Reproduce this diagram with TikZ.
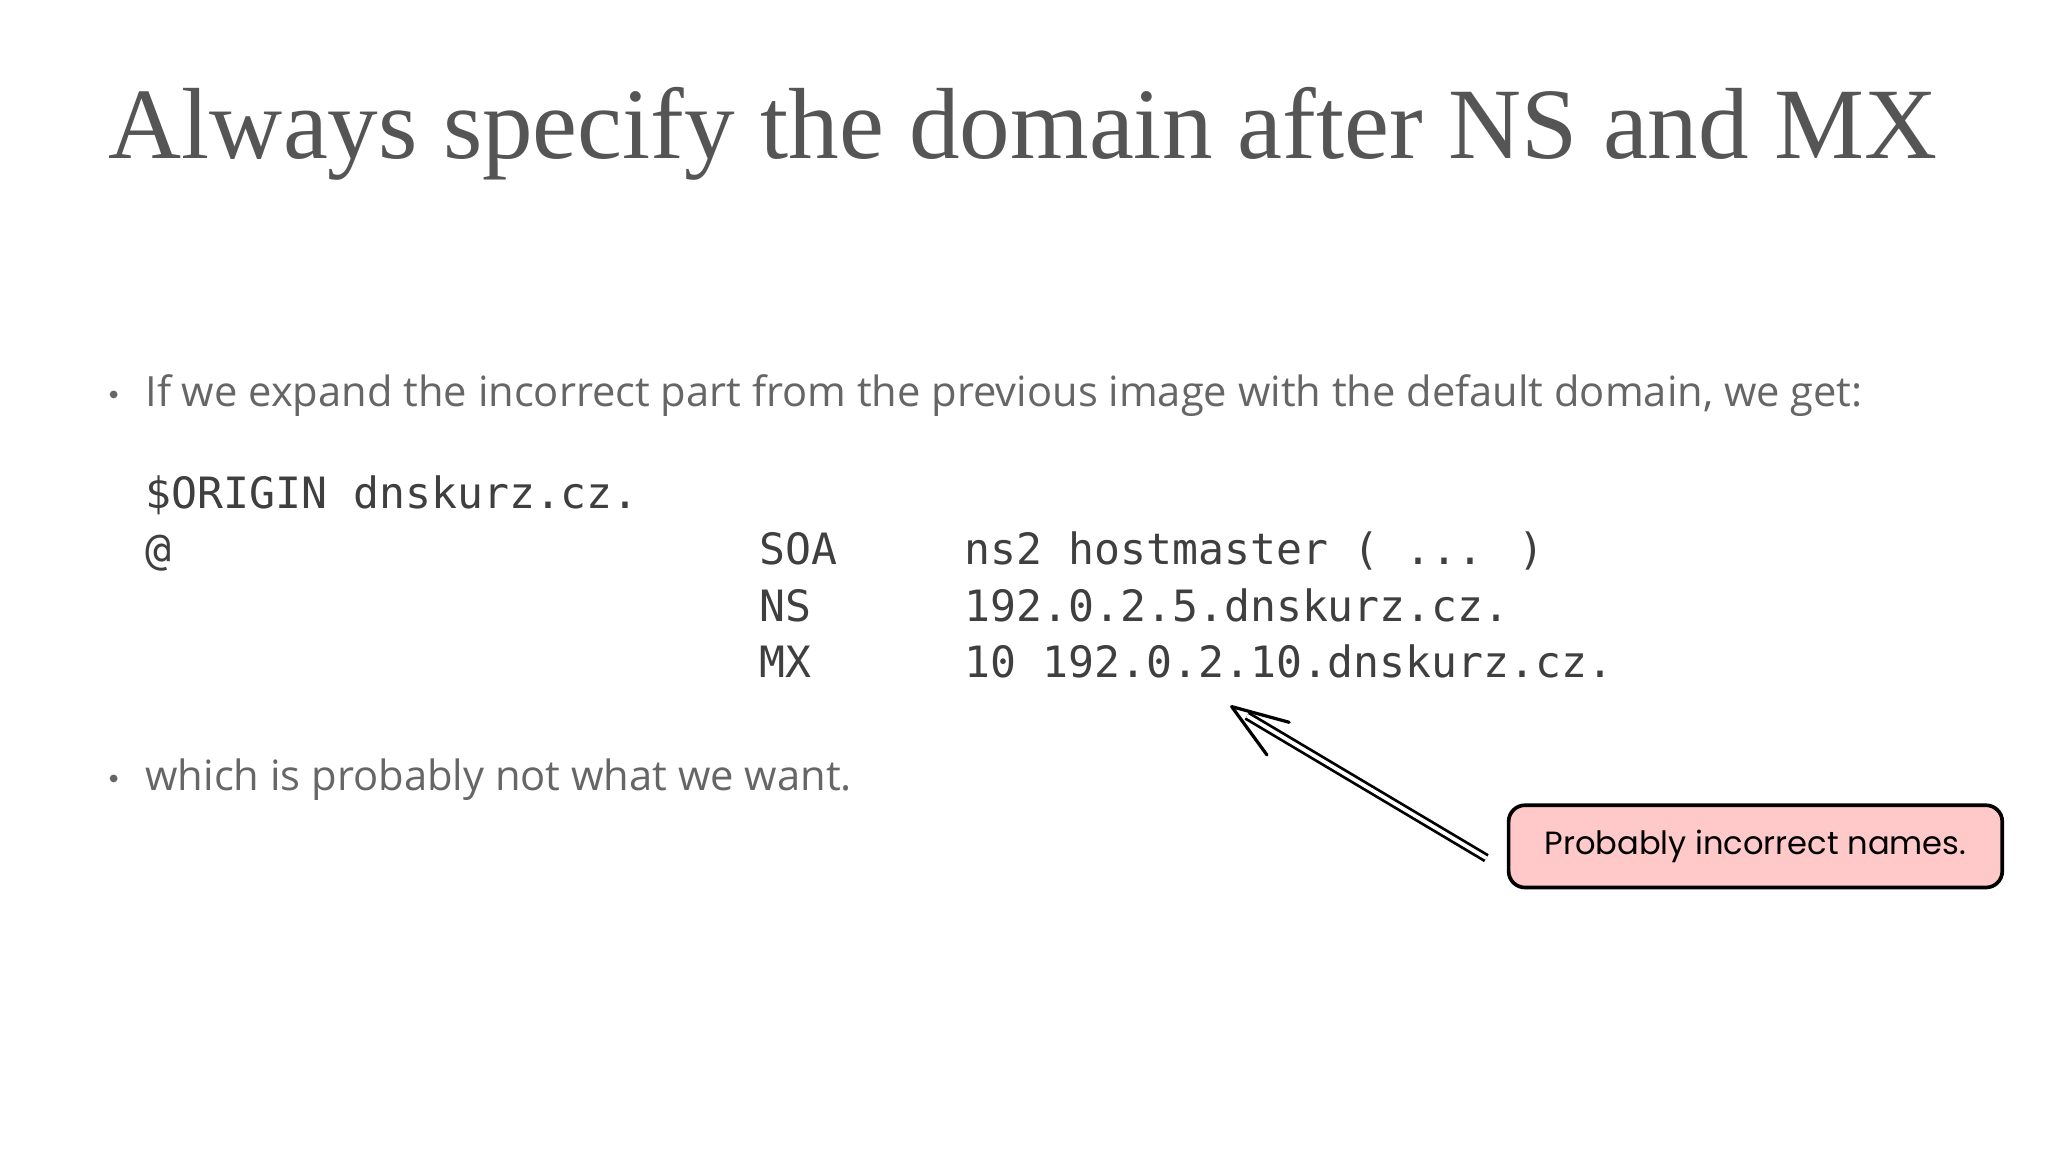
\documentclass[tikz,border=0pt]{standalone}
\usepackage{fontspec}
\setmainfont{Liberation Serif}
\newfontfamily\bodyf{Open Sans}
\newfontfamily\monof{DejaVu Sans Mono}
\newfontfamily\handf{Poppins}
\usetikzlibrary{arrows.meta,calc}
\definecolor{titlec}{HTML}{555555}
\definecolor{bodyc}{HTML}{666666}
\definecolor{monoc}{HTML}{3F3F3F}
\definecolor{pinkc}{HTML}{FFC9C9}
\begin{document}
\begin{tikzpicture}[x=0.02cm,y=-0.02cm,
  title/.style={anchor=base west,inner sep=0,text=titlec},
  body/.style={anchor=base west,inner sep=0,text=bodyc,font=\bodyf\fontsize{17}{20}\selectfont},
  mono/.style={anchor=base west,inner sep=0,text=monoc,font=\monof\fontsize{18.8}{22}\selectfont},
  bullet/.style={circle,fill=bodyc,inner sep=0,minimum size=0.12cm}]
\useasboundingbox[fill=white] (0,0) rectangle (1568,882);
\node[title] (t) at (83,121) {\resizebox{28cm}{!}{\fontsize{48}{54}\selectfont Always specify the domain after NS and MX}};
\node[bullet] (b1) at (87,302) {};
\node[body] (l1) at (111,311) {\resizebox{26.3cm}{!}{If we expand the incorrect part from the previous image with the default domain, we get:}};
\node[mono] (o) at (111,389) {\$ORIGIN dnskurz.cz.};
\node[mono] (at) at (111,432) {@};
\node[mono] (soa) at (581,432) {SOA};
\node[mono] (soav) at (738,432) {ns2 hostmaster ( ... )};
\node[mono] (ns) at (581,476) {NS};
\node[mono] (nsv) at (738,476) {192.0.2.5.dnskurz.cz.};
\node[mono] (mx) at (581,519) {MX};
\node[mono] (mxv) at (738,519) {10 192.0.2.10.dnskurz.cz.};
\node[bullet] (b2) at (87,596) {};
\node[body] (l2) at (111,605) {\resizebox{10.82cm}{!}{which is probably not what we want.}};
\node[draw=black,line width=1.6pt,fill=pinkc,rounded corners=0.25cm,
  minimum width=7.56cm,minimum height=1.26cm,
  font=\handf\fontsize{14}{17}\selectfont] (c) at (1344,648) {Probably incorrect names.};
\coordinate (tip) at (943,541);
\coordinate (tail) at (1138,657);
\draw[line width=1.2pt,double=white,double distance=1.6pt] (tail) -- ($(tip)!0.06!(tail)$);
\draw[line width=1.4pt,line cap=round] (tip) -- (987,553) (tip) -- (970,578);
\end{tikzpicture}
\end{document}
